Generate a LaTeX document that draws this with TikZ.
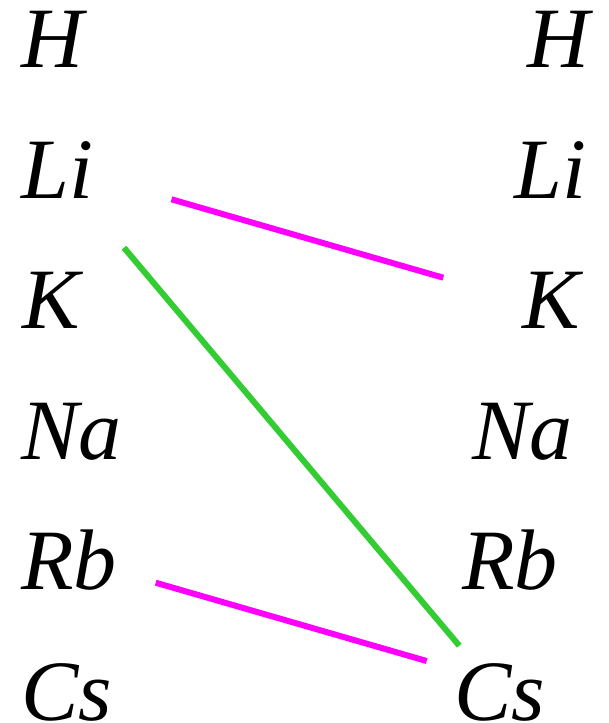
\documentclass[tikz,border=0pt]{standalone}
\usepackage{fontspec}
\setmainfont{Liberation Serif}
\definecolor{pairmagenta}{HTML}{FF00FF}
\definecolor{pairgreen}{HTML}{33CC33}
\tikzset{
  elem/.style={inner sep=0pt,anchor=base west,font=\fontsize{86}{86}\selectfont\itshape},
  pairline/.style={line width=6pt,line cap=butt}
}

\begin{document}
\begin{tikzpicture}[x=1pt,y=-1pt,line join=round]
  % Match the artwork frame.
  \useasboundingbox (0,0) rectangle (609,723);

  % Left column of element symbols.
  \node[elem] (lH)  at (21,67)  {H};
  \node[elem] (lLi) at (21,198) {Li};
  \node[elem] (lK)  at (22,328) {K};
  \node[elem] (lNa) at (21,459) {Na};
  \node[elem] (lRb) at (21,589) {Rb};
  \node[elem] (lCs) at (21,720) {Cs};

  % Right column, same symbols.
  \node[elem] (rH)  at (527,67)  {H};
  \node[elem] (rLi) at (514,198) {Li};
  \node[elem] (rK)  at (522,328) {K};
  \node[elem] (rNa) at (472,459) {Na};
  \node[elem] (rRb) at (462,589) {Rb};
  \node[elem] (rCs) at (454,720) {Cs};

  % Ends of the pairing lines.
  \coordinate (liOut)  at (171.5,199.3);
  \coordinate (kIn)    at (443.3,277.7);
  \coordinate (liLow)  at (124.0,247.7);
  \coordinate (csTop)  at (459.3,645.7);
  \coordinate (rbOut)  at (155.7,582.7);
  \coordinate (csIn)   at (426.7,661.0);

  \draw[pairline,draw=pairmagenta] (liOut) -- (kIn);
  \draw[pairline,draw=pairgreen]   (liLow) -- (csTop);
  \draw[pairline,draw=pairmagenta] (rbOut) -- (csIn);
\end{tikzpicture}
\end{document}
